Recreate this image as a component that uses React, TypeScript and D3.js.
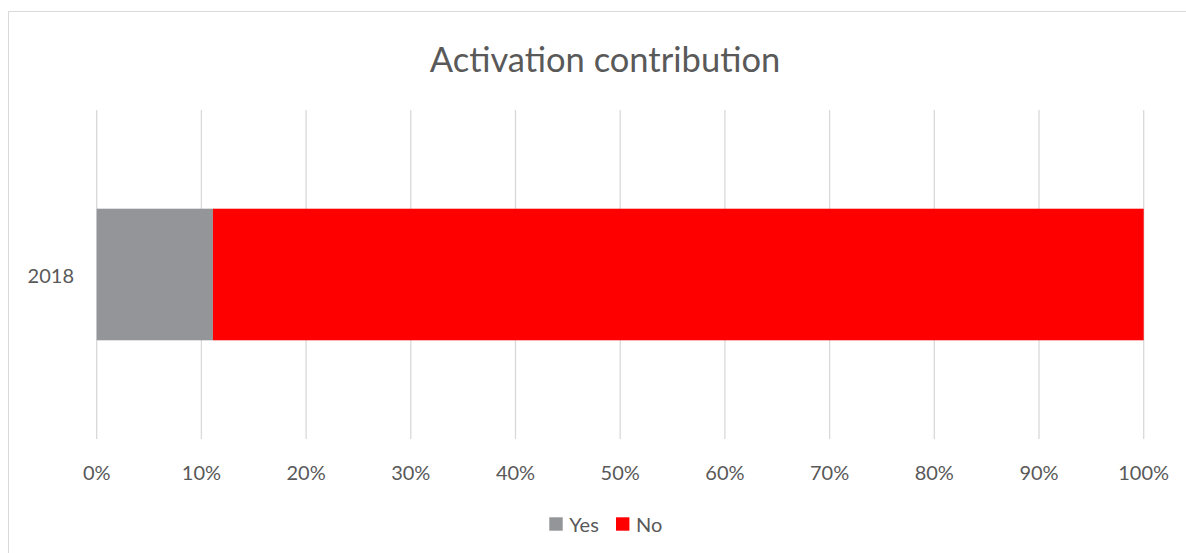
import React from "react";
import * as d3 from "d3";

const title = "Activation contribution";
const categories = ["2018"];
const seriesNames = ["Yes", "No"];
const seriesColors = ["#939598", "#FF0000"];
const yesValues = [0.111];
const noValues = [0.889];
const tickValues = [0, 0.1, 0.2, 0.3, 0.4, 0.5, 0.6, 0.7, 0.8, 0.9, 1.0];

const W = 1186;
const H = 553;
const FONT = "Lato, 'Open Sans', sans-serif";
const TEXT = "#595959";
const GRID = "#D9D9D9";

export default function App() {
  const x = d3.scaleLinear().domain([0, 1]).range([96.7, 1143.7]);
  const y = d3.scaleBand<string>().domain(categories).range([110, 439]).paddingInner(0.4286).paddingOuter(0.4286);
  const fmt = d3.format(".0%");
  const stackData = categories.map((c, i) => ({ cat: c, Yes: yesValues[i], No: noValues[i] }));
  const stacked = d3.stack<any>().keys(seriesNames)(stackData);

  const legendX = [549.3, 616];

  return (
    <svg width={W} height={H} style={{ position: "absolute", left: 0, top: 0, background: "#fff" }}>
      <rect x={8.5} y={11.5} width={W + 20} height={H + 20} fill="#fff" stroke={GRID} strokeWidth={1} />
      <text x={605} y={58} textAnchor="middle" dominantBaseline="central" fontFamily={FONT} fontSize={34.5} fill={TEXT}>
        {title}
      </text>
      {tickValues.map((t) => (
        <line key={"g" + t} x1={x(t)} x2={x(t)} y1={110} y2={439} stroke={GRID} strokeWidth={1.3} />
      ))}
      {stacked.map((s, si) =>
        s.map((d, di) => (
          <rect
            key={si + "-" + di}
            x={x(d[0])}
            y={y(categories[di])}
            width={x(d[1]) - x(d[0])}
            height={y.bandwidth()}
            fill={seriesColors[si]}
          />
        ))
      )}
      {tickValues.map((t) => (
        <text key={"t" + t} x={x(t)} y={472} textAnchor="middle" dominantBaseline="central" fontFamily={FONT} fontSize={20} fill={TEXT}>
          {fmt(t)}
        </text>
      ))}
      {categories.map((c) => (
        <text key={c} x={74} y={(y(c) as number) + y.bandwidth() / 2} textAnchor="end" dominantBaseline="central" fontFamily={FONT} fontSize={20} fill={TEXT}>
          {c}
        </text>
      ))}
      {seriesNames.map((n, i) => (
        <g key={n} transform={`translate(${legendX[i]},0)`}>
          <rect x={0} y={517.3} width={13.4} height={13.4} fill={seriesColors[i]} />
          <text x={20} y={523.5} dominantBaseline="central" fontFamily={FONT} fontSize={20} fill={TEXT}>
            {n}
          </text>
        </g>
      ))}
    </svg>
  );
}
